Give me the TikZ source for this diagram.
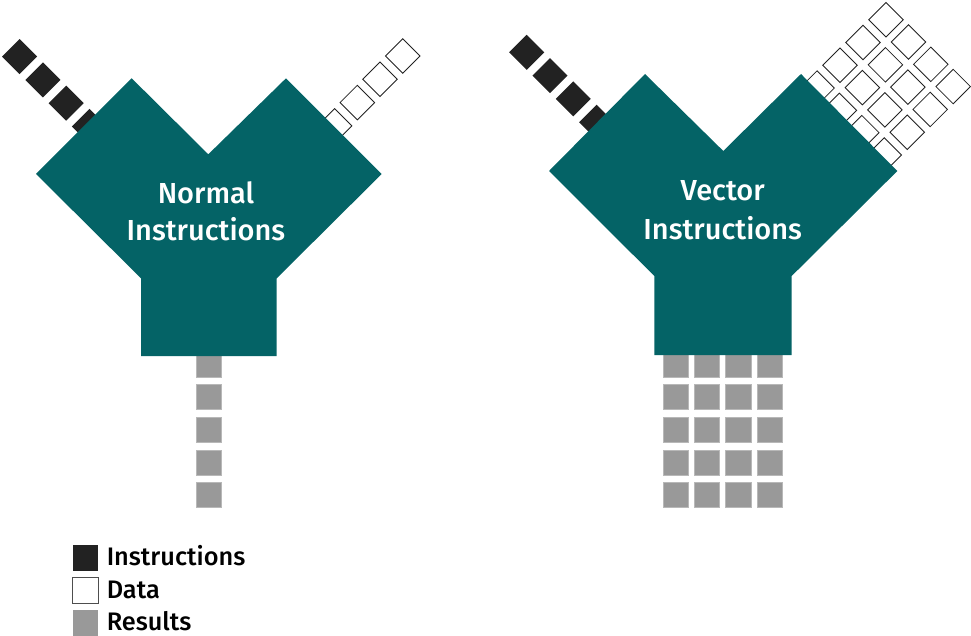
\documentclass[tikz,border=0pt]{standalone}
\usepackage{fontspec}
\setmainfont{Fira Sans}[BoldFont={Fira Sans Medium}]
\usetikzlibrary{positioning}
\definecolor{unitteal}{RGB}{4,99,102}
\definecolor{instrblack}{RGB}{34,34,34}
\definecolor{resgrey}{RGB}{153,153,153}

\tikzset{
  instr/.style={fill=instrblack, rotate=45, minimum size=0.62cm, inner sep=0pt},
  datum/.style={draw=instrblack, line width=0.6pt, fill=white, rotate=45, minimum size=0.61cm, inner sep=0pt},
  result/.style={fill=resgrey, draw=resgrey!70, line width=0.3pt, minimum size=0.63cm, inner sep=0pt},
  unit/.style={fill=unitteal},
  unitlabel/.style={text=white, anchor=base, font=\fontsize{20.6}{26}\selectfont\bfseries},
  keybox/.style={minimum size=0.64cm, inner sep=0pt},
  keytext/.style={anchor=base west, inner sep=0pt, font=\fontsize{18}{20}\selectfont\bfseries}
}

\begin{document}
\begin{tikzpicture}[x=0.025cm, y=-0.025cm]
      \useasboundingbox (0,0) rectangle (971,636);

      % normal: one instruction stream, one data stream
      \foreach \i in {0,...,3} {
        \node[instr] (ni\i) at ({19.6+23.3*\i},{56.6+23.3*\i}) {};
        \node[datum] (nd\i) at ({402.7-22.7*\i},{56+23.3*\i}) {};
      }
      \foreach \i in {0,...,4}
        \node[result] (nr\i) at (208.5,{364.4+32.65*\i}) {};

      % vector: one instruction stream, 4x4 data
      \foreach \i in {0,...,3} {
        \node[instr] (vi\i) at ({526.7+23.3*\i},{52.3+23.3*\i}) {};
        \foreach \j in {0,...,3}
          \node[datum] (vd\i\j) at ({886+22.4*\i-23*\j},{19.7+22.3*\i+22.8*\j}) {};
      }
      \foreach \i in {0,...,4}
        \foreach \j in {0,...,3}
          \node[result] (vr\i\j) at ({675.7+31.27*\j},{364.4+32.65*\i}) {};

      % the two units
      \fill[unit] (131.7,78.3) -- (208.3,154.3) -- (286,78.3) -- (381.7,174)
        -- (276.7,278.3) -- (276.7,356) -- (141,356) -- (141,278.3) -- (36,174) -- cycle;
      \fill[unit] (645,74) -- (723.3,151) -- (801,74) -- (897.3,171)
        -- (791.7,276) -- (791.7,355) -- (654.3,355) -- (654.3,276) -- (549,171) -- cycle;

      \node[unitlabel] (normal) at (206,203.3) {Normal};
      \node[unitlabel] (normalb) at (206,240.7) {Instructions};
      \node[unitlabel] (vector) at (722.7,201) {Vector};
      \node[unitlabel] (vectorb) at (722.7,239.3) {Instructions};

      % key
      \node[keybox, fill=instrblack] (kinstr) at (85.5,557.8) {};
      \node[keybox, draw=instrblack!80, line width=0.8pt, fill=white] (kdata) at (85.5,590.5) {};
      \node[keybox, fill=resgrey] (kres) at (85.5,623.2) {};
      \node[keytext] (tinstr) at (106.5,565.5) {Instructions};
      \node[keytext] (tdata) at (106.5,598) {Data};
      \node[keytext] (tres) at (106.5,630.5) {Results};
    \end{tikzpicture}
\end{document}
